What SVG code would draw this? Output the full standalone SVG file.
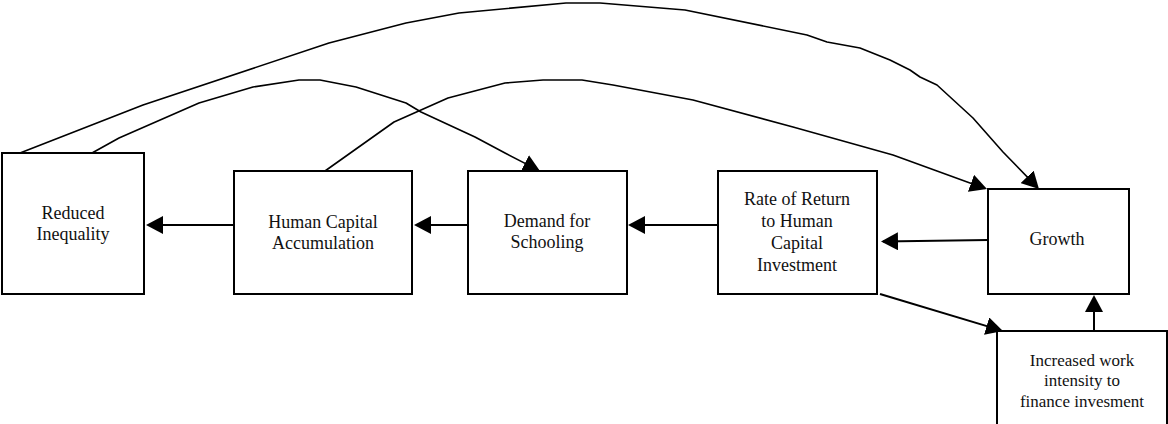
<svg xmlns="http://www.w3.org/2000/svg" width="1168" height="424" viewBox="0 0 1168 424">
<defs>
<style>
.box{fill:#fff;stroke:#000;stroke-width:2}
.lbl{font-family:"Liberation Serif","Times New Roman",serif;font-size:18px;fill:#111;text-anchor:middle}
.sm{font-size:17px}
.ln{fill:none;stroke:#000;stroke-width:2;marker-end:url(#ah)}
.cv{fill:none;stroke:#000;stroke-width:1.6;stroke-linejoin:round;marker-end:url(#ah)}
.pl{fill:none;stroke:#000;stroke-width:1.6;stroke-linejoin:round}
</style>
<marker id="ah" markerUnits="userSpaceOnUse" markerWidth="18" markerHeight="18" refX="15" refY="9" orient="auto" viewBox="0 0 18 18">
<path d="M0,0 L17,9 L0,18 z" fill="#000"/>
</marker>
</defs>
<rect width="1168" height="424" fill="#fff"/>
<g id="connectors">
<path class="cv" d="M20,153 L143,105 L329,43 L406,23 L459,13 L566,3 L600,3 L685,10 L807,35 L827,42 L860,48 L890,60 L910,70 L920,77 L937,85 L973,118 L1003,152 L1037.6,187.6"/>
<path class="cv" d="M92,153 L119,138 L199,103 L253,87 L299,80 L320,80 L356,87 L406,103 L421,112 L475,137 L505,153 L538.2,170.1"/>
<path class="cv" d="M325,171 L394,122 L448,98 L505,83 L543,80 L582,80 L613,85 L693,100 L793,127 L893,155 L985.1,188.4"/>
<line class="ln" x1="234" y1="225" x2="148" y2="225"/>
<line class="ln" x1="468" y1="225" x2="416" y2="225"/>
<line class="ln" x1="718" y1="225" x2="630" y2="225"/>
<line class="ln" x1="988" y1="240" x2="883" y2="241.5"/>
<line class="ln" x1="1094" y1="331" x2="1094" y2="297"/>
<line class="ln" x1="880" y1="294" x2="1001" y2="330.4"/>
</g>
<g id="n-reduced">
<rect class="box" x="2" y="153" width="142" height="141"/>
<text class="lbl" x="73" y="219">Reduced</text>
<text class="lbl" x="73" y="240">Inequality</text>
</g>
<g id="n-hca">
<rect class="box" x="234" y="171" width="178" height="123"/>
<text class="lbl" x="323" y="228">Human Capital</text>
<text class="lbl" x="323" y="249">Accumulation</text>
</g>
<g id="n-demand">
<rect class="box" x="468" y="171" width="159" height="123"/>
<text class="lbl" x="547" y="227">Demand for</text>
<text class="lbl" x="547" y="248">Schooling</text>
</g>
<g id="n-rate">
<rect class="box" x="718" y="171" width="159" height="123"/>
<text class="lbl" x="797" y="205">Rate of Return</text>
<text class="lbl" x="797" y="227">to Human</text>
<text class="lbl" x="797" y="249">Capital</text>
<text class="lbl" x="797" y="271">Investment</text>
</g>
<g id="n-growth">
<rect class="box" x="988" y="189" width="141" height="105"/>
<text class="lbl" x="1057" y="245">Growth</text>
</g>
<g id="n-work">
<rect class="box" x="997" y="331" width="170" height="110"/>
<text class="lbl sm" x="1082" y="366">Increased work</text>
<text class="lbl sm" x="1082" y="386">intensity to</text>
<text class="lbl sm" x="1082" y="407">finance invesment</text>
</g>
</svg>
